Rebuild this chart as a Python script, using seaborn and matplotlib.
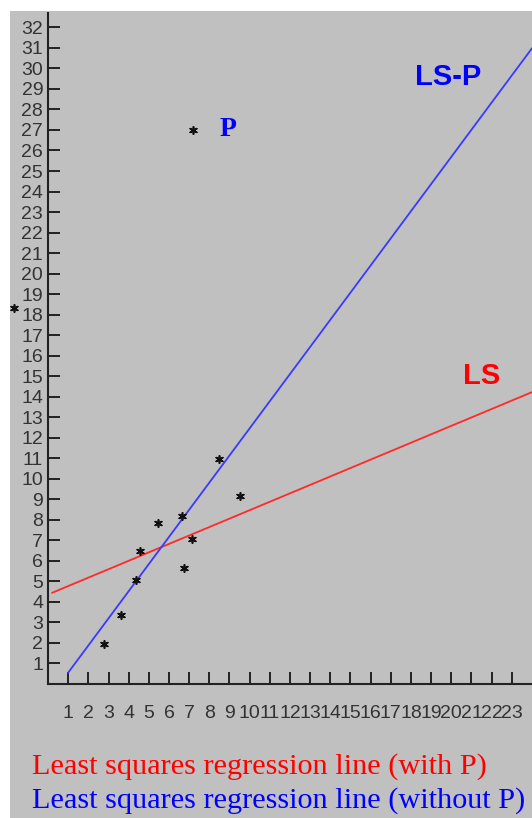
import numpy as np
import pandas as pd
import matplotlib
matplotlib.use("Agg")
import matplotlib.pyplot as plt
from matplotlib.patches import Rectangle
import seaborn as sns

# titik data
x_pts = [7.2, 2.77, 3.61, 4.36, 4.55, 5.45, 6.63, 6.73, 7.13, 8.47, 9.5, -1.68]
y_pts = [27.0, 1.95, 3.37, 5.07, 6.49, 7.85, 8.2, 5.66, 7.07, 10.98, 9.17, 18.3]

# garis regresi: kemiringan, intersep, rentang x
ls_slope, ls_icpt = 0.411, 4.36          # dengan P
lsp_slope, lsp_icpt = 1.323, -0.77       # tanpa P
ls_x = [0.2, 24.0]
lsp_x = [0.99, 24.0]

x_ticks = list(range(1, 24))
y_ticks = list(range(1, 33))

GRAY = "#c0c0c0"
sns.set_theme(style="white")
plt.rcParams["font.family"] = ["Liberation Sans", "DejaVu Sans"]

fig = plt.figure(figsize=(5.32, 8.18), dpi=100)
fig.patch.set_facecolor("white")
fig.patches.append(Rectangle((10 / 532, 0), 1, 1 - 11 / 818, transform=fig.transFigure,
                             facecolor=GRAY, edgecolor="none", zorder=-5))

ax = fig.add_axes([48 / 532, 134 / 818, 484 / 532, 671 / 818])
ax.set_facecolor(GRAY)

df_ls = pd.DataFrame({"x": ls_x})
df_ls["y"] = ls_icpt + ls_slope * df_ls["x"]
df_lsp = pd.DataFrame({"x": lsp_x})
df_lsp["y"] = lsp_icpt + lsp_slope * df_lsp["x"]

sns.lineplot(data=df_ls, x="x", y="y", ax=ax, color="#ff2a2a", linewidth=1.3)
sns.lineplot(data=df_lsp, x="x", y="y", ax=ax, color="#3a3aff", linewidth=1.3)

pts = pd.DataFrame({"x": x_pts, "y": y_pts})
sns.scatterplot(data=pts, x="x", y="y", ax=ax, marker=(6, 2, 0), s=28,
                color="#111111", linewidth=1.2, clip_on=False, zorder=5)

ax.set_xlim(0, 24.0)
ax.set_ylim(0, 32.7)
ax.set_xticks(x_ticks)
ax.set_yticks(y_ticks)
ax.set_xlabel("")
ax.set_ylabel("")
for s in ["top", "right"]:
    ax.spines[s].set_visible(False)
for s in ["left", "bottom"]:
    ax.spines[s].set_color("#222222")
    ax.spines[s].set_linewidth(1.5)
ax.tick_params(axis="both", direction="in", length=8.5, width=1.4, color="#222222",
               labelsize=14, labelcolor="#333333")
ax.tick_params(axis="y", pad=3.5, left=True)
ax.tick_params(axis="x", pad=15, bottom=True)

ax.text(8.5, 27.0, "P", color="#0000ff", fontsize=20, fontweight="bold",
        family=["Liberation Serif"], va="center", ha="left")
ax.text(18.2, 29.6, "LS-P", color="#0000ff", fontsize=21, fontweight="bold",
        va="center", ha="left")
ax.text(20.6, 15.0, "LS", color="#ff0000", fontsize=21, fontweight="bold",
        va="center", ha="left")

fig.text(32 / 532, 1 - 774 / 818, "Least squares regression line (with P)",
         color="#ff0000", fontsize=21.8, family=["Liberation Serif"], va="baseline")
fig.text(32 / 532, 1 - 808 / 818, "Least squares regression line (without P)",
         color="#0000ff", fontsize=21.8, family=["Liberation Serif"], va="baseline")

fig.savefig("out.png", dpi=100, facecolor="white")
